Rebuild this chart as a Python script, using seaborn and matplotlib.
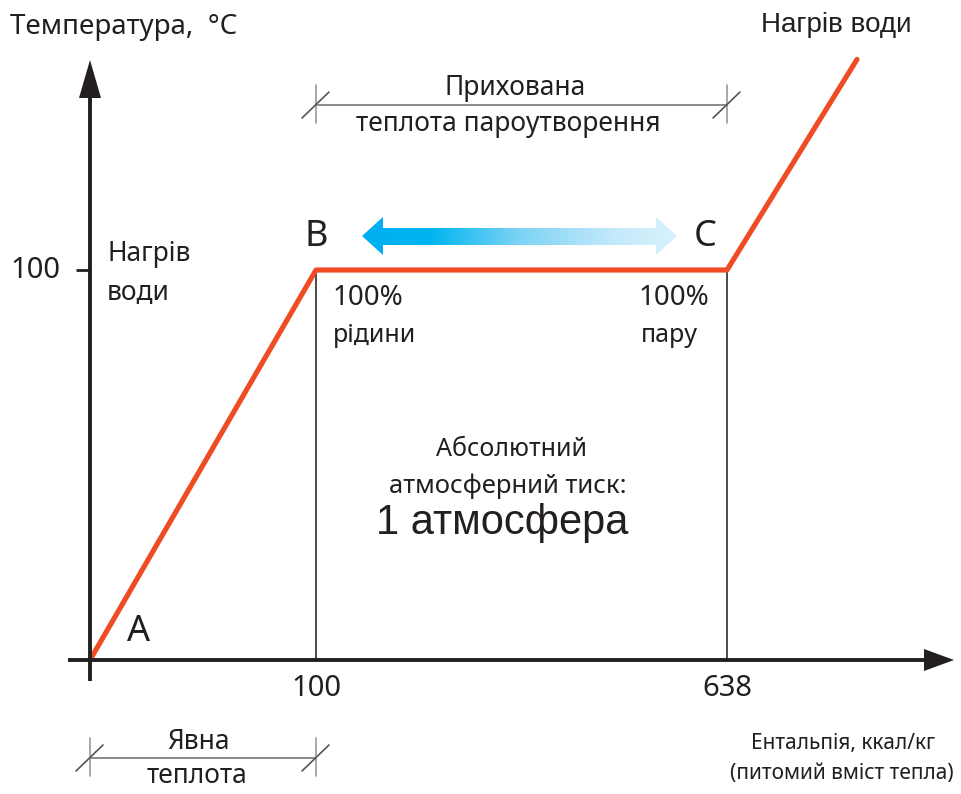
import numpy as np
import pandas as pd
import matplotlib
matplotlib.use('Agg')
import matplotlib.pyplot as plt
import seaborn as sns
from matplotlib.colors import LinearSegmentedColormap
from matplotlib.patches import Polygon


# ---- Data -------------------------------------------####

# heating curve of water: A (0, 0) -> B (100, 100) -> C (638, 100) -> steam
enthalpy = [0, 100, 638, 700]
temperature = [0, 100, 100, 154]
enthalpy_ticks = [100, 638]
temperature_ticks = [100]

# schematic (broken) enthalpy axis: enthalpy breakpoints and their drawn offsets
scale_enthalpy = [-100, 0, 100, 638, 700, 800]
scale_drawn = [-226, 0, 226, 637, 767, 977]


# ---- Setup -------------------------------------------####

sns.set_theme(style='white')
plt.rcParams['font.family'] = ['Noto Sans', 'DejaVu Sans']

W, H = 961, 794
red = '#EF4B24'
ink = '#231F20'
grey = '#4a4a4a'

fig = plt.figure(figsize=(W / 100, H / 100), dpi=100)

# data axes: x uses the broken enthalpy scale, y is linear temperature
ax = fig.add_axes([0, 0, 1, 1])
fwd = lambda e: np.interp(e, scale_enthalpy, scale_drawn)
inv = lambda p: np.interp(p, scale_drawn, scale_enthalpy)
ax.set_xscale('function', functions=(fwd, inv))
ax.set_xlim(inv(-90), inv(W - 90))
ax.set_ylim(-(H - 660) / 3.9, 660 / 3.9)
ax.axis('off')

# overlay axes in pixel units for arrows, dimension lines and notes
ax2 = fig.add_axes([0, 0, 1, 1])
ax2.axis('off')


# ---- Plot -------------------------------------------####

df = pd.DataFrame({'enthalpy': enthalpy, 'temperature': temperature})
sns.lineplot(data=df, x='enthalpy', y='temperature', color=red, lw=3.7,
             sort=False, estimator=None, ax=ax, zorder=4)

# vertical guides at B and C
ax.vlines(enthalpy_ticks, 0, temperature_ticks[0], color=grey, lw=1.4, zorder=2)
ax.hlines(temperature_ticks, inv(-14), 0, color=ink, lw=2, zorder=3)

for e in enthalpy_ticks:
    ax.text(e, -(688 - 660) / 3.9, str(e), ha='center', va='center', fontsize=21, color=ink)
for t in temperature_ticks:
    ax.text(inv(-30), t, str(t), ha='right', va='center', fontsize=21, color=ink)

# axis arrows
ax2.plot([68, 930], [660, 660], color=ink, lw=2.8, solid_capstyle='butt')
ax2.add_patch(Polygon([(924, 649), (954, 660), (924, 671)], closed=True, color=ink, lw=0))
ax2.plot([90, 90], [681, 92], color=ink, lw=2.8, solid_capstyle='butt')
ax2.add_patch(Polygon([(79, 98), (90, 60), (101, 98)], closed=True, color=ink, lw=0))

# dimension lines
def dim_line(x0, x1, y):
    ax2.plot([x0, x1], [y, y], color='#777777', lw=1.2)
    for x in (x0, x1):
        ax2.plot([x, x], [y - 20, y + 18], color='#999999', lw=1.2)
        ax2.plot([x - 14, x + 13], [y + 13, y - 13], color='#555555', lw=1.2)

dim_line(316, 727, 105)
dim_line(90, 316, 758)

# gradient double arrow between B and C
arrow_pts = [(362, 236), (383, 217), (383, 228), (656, 228), (656, 217),
             (677, 236), (656, 255), (656, 245), (383, 245), (383, 255)]
cmap = LinearSegmentedColormap.from_list('steam', [
    (0.0, '#00AEEF'), (0.22, '#00B6F0'), (0.5, '#7DD3F5'), (0.8, '#C3E9FA'), (1.0, '#D9F2FC')])
im = ax2.imshow(np.linspace(0, 1, 256)[None, :], extent=[362, 677, 255, 217],
                cmap=cmap, aspect='auto', zorder=3)
clip = Polygon(arrow_pts, closed=True, facecolor='none', edgecolor='none',
               transform=ax2.transData)
ax2.add_patch(clip)
im.set_clip_path(clip)
ax2.set_xlim(0, W)
ax2.set_ylim(H, 0)

# texts
txt = dict(color=ink, fontsize=19)
arial = ['Liberation Sans', 'DejaVu Sans']
ax2.text(10, 27, 'Температура,  °C', ha='left', va='center', color=ink, fontsize=20)
ax2.text(836, 25, 'Нагрів води', ha='center', va='center', color=ink, fontsize=20, family=arial)
ax2.text(107, 254, 'Нагрів', ha='left', va='center', **txt)
ax2.text(107, 293, 'води', ha='left', va='center', **txt)
ax2.text(515, 88, 'Прихована', ha='center', va='center', **txt)
ax2.text(508, 124, 'теплота пароутворення', ha='center', va='center', **txt)
ax2.text(316, 237, 'B', ha='center', va='center', fontsize=26, color=ink)
ax2.text(705, 237, 'C', ha='center', va='center', fontsize=26, color=ink)
ax2.text(139, 632, 'A', ha='center', va='center', fontsize=26, color=ink)
ax2.text(333, 298, '100%', ha='left', va='center', color=ink, fontsize=20)
ax2.text(333, 335, 'рідини', ha='left', va='center', color=ink, fontsize=18)
ax2.text(709, 298, '100%', ha='right', va='center', color=ink, fontsize=20)
ax2.text(698, 336, 'пару', ha='right', va='center', color=ink, fontsize=18)
ax2.text(511, 450, 'Абсолютний', ha='center', va='center', color=ink, fontsize=18)
ax2.text(508, 486, 'атмосферний тиск:', ha='center', va='center', color=ink, fontsize=18.5)
ax2.text(502, 523, '1 атмосфера', ha='center', va='center', color=ink, fontsize=30, family=arial)
ax2.text(198, 742, 'Явна', ha='center', va='center', **txt)
ax2.text(197, 776, 'теплота', ha='center', va='center', **txt)
ax2.text(843, 744, 'Ентальпія, ккал/кг', ha='center', va='center', color=ink, fontsize=15)
ax2.text(842, 774, '(питомий вміст тепла)', ha='center', va='center', color=ink, fontsize=15)

fig.savefig('out.png', dpi=100, facecolor='white')
